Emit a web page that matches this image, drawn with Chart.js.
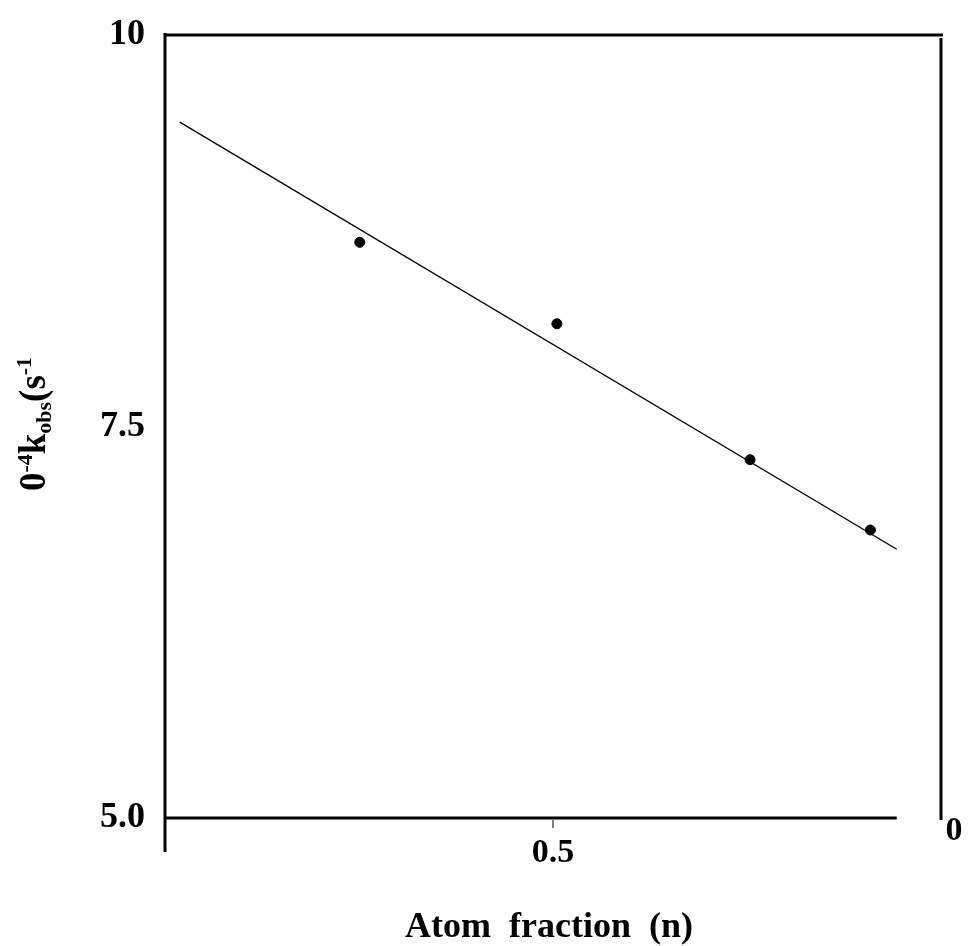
<!DOCTYPE html>
<html>
<head>
<meta charset="utf-8">
<script src="https://cdn.jsdelivr.net/npm/chart.js@4.4.1/dist/chart.umd.min.js"></script>
<style>
  html, body { margin: 0; padding: 0; background: #fff; }
  #wrap { width: 968px; height: 946px; }
</style>
</head>
<body>
<div id="wrap"><canvas id="chart" width="968" height="946"></canvas></div>
<script>
// data
const fraction = [0.251, 0.505, 0.754, 0.909];
const kobs = [8.676, 8.156, 7.288, 6.839];

// fitted line end points
const fitX = [0.019, 0.943];
const fitY = [9.444, 6.716];

const yTicks = [5, 7.5, 10];
const yTickLabels = ['5.0', '7.5', '10'];
const xTicks = [0.5];
const xTickLabels = ['0.5'];

const serif = '"Liberation Serif", "DejaVu Serif", serif';

// frame, titles and the cut-off "0" label
const framePlugin = {
  id: 'frame',
  afterDraw(chart) {
    const ctx = chart.ctx;
    const xs = chart.scales.x;
    const ys = chart.scales.y;
    const L = xs.getPixelForValue(0);
    const R = xs.getPixelForValue(1);
    const T = ys.getPixelForValue(10);
    const B = ys.getPixelForValue(5);

    ctx.save();
    ctx.strokeStyle = '#000';
    ctx.lineWidth = 3;
    ctx.beginPath();
    // left axis, running down past the bottom
    ctx.moveTo(L, T - 2);
    ctx.lineTo(L, B + 34);
    // top
    ctx.moveTo(L, T);
    ctx.lineTo(R + 2, T);
    // right
    ctx.moveTo(R, T + 3);
    ctx.lineTo(R, B + 2);
    // bottom, stops short of the right side
    ctx.moveTo(L, B);
    ctx.lineTo(xs.getPixelForValue(fitX[1]), B);
    ctx.stroke();

    // little tick under 0.5
    ctx.lineWidth = 1;
    ctx.beginPath();
    ctx.moveTo(xs.getPixelForValue(0.5), B + 2);
    ctx.lineTo(xs.getPixelForValue(0.5), B + 10);
    ctx.stroke();

    ctx.fillStyle = '#000';

    // clipped label at the right
    ctx.textBaseline = 'middle';
    ctx.font = 'bold 34px ' + serif;
    ctx.textAlign = 'center';
    ctx.fillText('0', R + 13, B + 13);

    // x title
    ctx.textBaseline = 'alphabetic';
    ctx.font = 'bold 36px ' + serif;
    ctx.fillText('Atom  fraction  (n)', 549, 937);

    // y title, rotated, with super/subscripts
    ctx.translate(45, 424);
    ctx.rotate(-Math.PI / 2);
    const parts = [
      { t: '0', size: 37, dy: 0 },
      { t: '-4', size: 22, dy: -13 },
      { t: 'k', size: 37, dy: 0 },
      { t: 'obs', size: 22, dy: 6 },
      { t: '(s', size: 37, dy: 0 },
      { t: '-1', size: 22, dy: -14 }
    ];
    let w = 0;
    parts.forEach(p => {
      ctx.font = 'bold ' + p.size + 'px ' + serif;
      p.w = ctx.measureText(p.t).width;
      w += p.w;
    });
    let x = -w / 2;
    ctx.textAlign = 'left';
    parts.forEach(p => {
      ctx.font = 'bold ' + p.size + 'px ' + serif;
      ctx.fillText(p.t, x, p.dy);
      x += p.w;
    });
    ctx.restore();
  }
};

// drop the label overflow padding so the plot box sits where the layout says
const noOverflow = s => {
  s.paddingTop = 0;
  s.paddingBottom = 0;
  s.paddingLeft = 0;
  s.paddingRight = 0;
};

new Chart(document.getElementById('chart'), {
  type: 'scatter',
  data: {
    datasets: [
      {
        label: 'points',
        data: fraction.map((f, i) => ({ x: f, y: kobs[i] })),
        backgroundColor: '#000',
        borderColor: '#000',
        pointRadius: 5,
        pointHoverRadius: 5
      },
      {
        label: 'fit',
        type: 'line',
        data: fitX.map((f, i) => ({ x: f, y: fitY[i] })),
        borderColor: '#000',
        borderWidth: 1.3,
        pointRadius: 0,
        fill: false
      }
    ]
  },
  options: {
    responsive: false,
    animation: false,
    events: [],
    layout: { padding: { top: 35, right: 27, left: 0, bottom: 0 } },
    plugins: { legend: { display: false }, tooltip: { enabled: false } },
    scales: {
      x: {
        type: 'linear',
        min: 0,
        max: 1,
        afterFit: s => { s.height = 128; noOverflow(s); },
        afterBuildTicks: s => { s.ticks = xTicks.map(v => ({ value: v })); },
        grid: { display: false, drawTicks: false },
        border: { display: false },
        ticks: {
          padding: 15,
          color: '#000',
          font: { family: serif, size: 34, weight: 'bold' },
          callback: v => xTickLabels[xTicks.indexOf(v)]
        }
      },
      y: {
        min: 5,
        max: 10,
        afterFit: s => { s.width = 165; noOverflow(s); },
        afterBuildTicks: s => { s.ticks = yTicks.map(v => ({ value: v })); },
        grid: { display: false, drawTicks: false },
        border: { display: false },
        ticks: {
          padding: 20,
          color: '#000',
          font: { family: serif, size: 36, weight: 'bold' },
          callback: v => yTickLabels[yTicks.indexOf(v)]
        }
      }
    }
  },
  plugins: [framePlugin]
});
</script>
</body>
</html>
